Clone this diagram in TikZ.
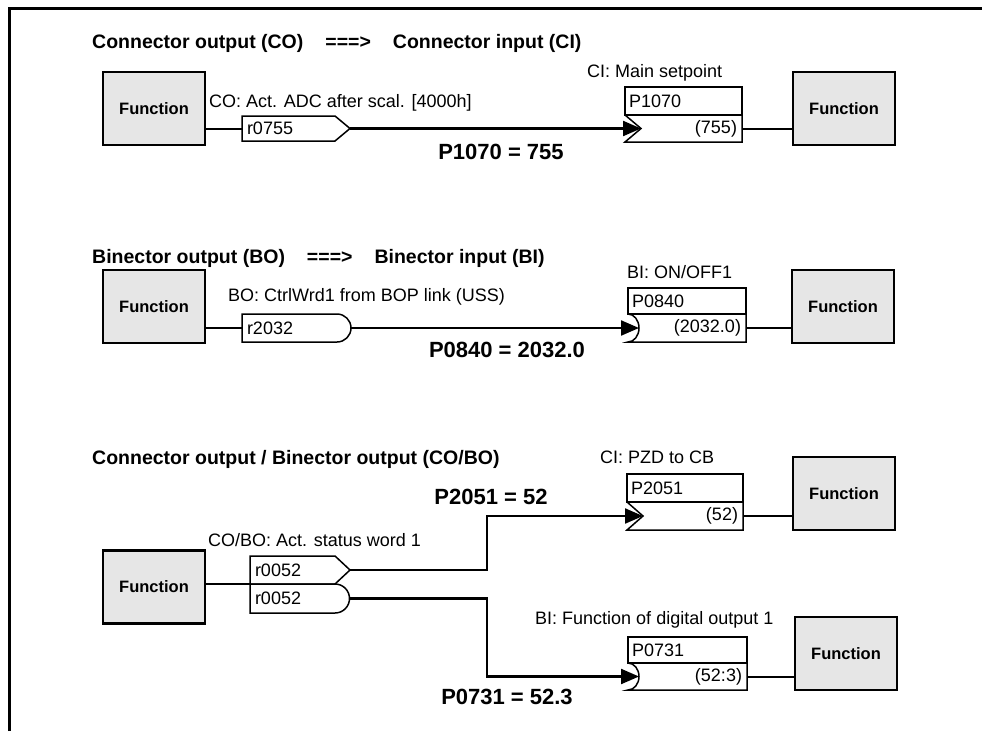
\documentclass[tikz,border=0pt]{standalone}
\usepackage{fontspec}
\setmainfont{Liberation Sans}
\usepackage{tikz}
\usetikzlibrary{arrows.meta,positioning,calc}
\definecolor{fngray}{RGB}{230,230,230}

% output ends and input notches, drawn round a named node
\newcommand\cotip[1]{%
  \draw[outline] (#1.south west) -- (#1.north west) -- (#1.north east) -- ($(#1.east)+(15,0)$) -- (#1.south east) -- cycle;
  \coordinate (#1-tip) at ($(#1.east)+(15,0)$);}
\newcommand\botip[2]{%
  \draw[outline] (#1.south east) -- (#1.south west) -- (#1.north west) -- (#1.north east) arc[start angle=-90, end angle=90, radius=#2];
  \coordinate (#1-tip) at ($(#1.east)+(#2,0)$);}
\newcommand\cinotch[1]{%
  \draw[outline] (#1.north west) -- ($(#1.west)+(16,0)$) -- (#1.south west) -- (#1.south east) -- (#1.north east);
  \coordinate (#1-tip) at ($(#1.west)+(16,0)$);}
\newcommand\binotch[2]{%
  \draw[outline] (#1.north west) arc[start angle=-90, end angle=90, x radius=11, y radius=#2] -- (#1.south east) -- (#1.north east);
  \coordinate (#1-tip) at ($(#1.west)+(11,0)$);}

\begin{document}
\begin{tikzpicture}[
  x=1pt, y=-1pt,
  font=\fontsize{18}{21}\selectfont,
  node distance=0pt,
  fn/.style={draw, line width=2.4pt, fill=fngray, minimum width=102pt, minimum height=73pt, inner sep=0pt, font=\bfseries\fontsize{16.5}{19}\selectfont},
  outbox/.style={inner xsep=5pt, inner ysep=0pt, outer sep=0pt, minimum height=#1, align=left},
  outbox/.default=26pt,
  inbox/.style={draw, line width=1.5pt, inner xsep=4pt, inner ysep=0pt, outer sep=0pt, minimum height=#1, align=left},
  inbox/.default=26pt,
  inval/.style={inner xsep=5pt, inner ysep=0pt, outer sep=0pt, minimum height=#1, align=right},
  inval/.default=27pt,
  outline/.style={line width=1.5pt, line join=miter},
  title/.style={anchor=west, inner sep=0pt, font=\bfseries\fontsize{19.5}{22}\selectfont},
  big/.style={inner sep=0pt, font=\bfseries\fontsize{22}{26}\selectfont},
  lbl/.style={anchor=west, inner sep=0pt},
  conn/.style={line width=2pt},
  arrow/.style={-{Triangle[length=18pt,width=15pt]}, line width=2.2pt}
]
\useasboundingbox (0,0) rectangle (982,731);
\draw[line width=3pt] (9,731) -- (9,8) -- (982,8);

% CO ===> CI
\node[title] (t1) at (92,43) {Connector output (CO)\hspace{22pt}===>\hspace{22pt}Connector input (CI)};
\node[fn] (fn1) at (154,108.5) {Function};
\node[outbox=25pt, text width=83pt] (r0755) at (288.5,128.5) {r0755};
\cotip{r0755}
\node[lbl] (l0755) at (209,103) {CO: Act. ADC after scal. [4000h]};
\node[inbox=28pt, text width=109pt] (p1070) at (683.5,101) {P1070};
\node[inval, text width=107pt, below=of p1070] (v1070) {(755)};
\cinotch{v1070}
\node[lbl] (l1070) at (587,73) {CI: Main setpoint};
\node[fn] (fn2) at (844,108.5) {Function};
\draw[conn] (fn1.east |- r0755.west) -- (r0755.west);
\draw[arrow] (r0755-tip) -- (v1070-tip);
\draw[conn] (v1070.east) -- (fn2.west |- v1070.east);
\node[big] (eq1070) at (501,152) {P1070 = 755};

% BO ===> BI
\node[title] (t2) at (92,258) {Binector output (BO)\hspace{22pt}===>\hspace{22pt}Binector input (BI)};
\node[fn] (fn3) at (154,306.5) {Function};
\node[outbox=28pt, text width=85pt] (r2032) at (289.5,328) {r2032};
\botip{r2032}{14}
\node[lbl] (l2032) at (228,297) {BO: CtrlWrd1 from BOP link (USS)};
\node[inbox, text width=110pt] (p0840) at (687,301) {P0840};
\node[inval=28pt, text width=108pt, below=of p0840] (v0840) {(2032.0)};
\binotch{v0840}{14}
\node[lbl] (l0840) at (627,272) {BI: ON/OFF1};
\node[fn] (fn4) at (843,306.5) {Function};
\draw[conn] (fn3.east |- r2032.west) -- (r2032.west);
\draw[arrow] (r2032-tip) -- (v0840-tip);
\draw[conn] (v0840.east) -- (fn4.west |- v0840.east);
\node[big] (eq0840) at (507,350) {P0840 = 2032.0};

% CO/BO
\node[title] (t3) at (92,459) {Connector output / Binector output (CO/BO)};
\node[fn] (fn5) at (154,587) {Function};
\node[outbox=28pt, text width=75pt] (r0052a) at (292.5,570) {r0052};
\cotip{r0052a}
\node[outbox=29pt, text width=75pt, below=of r0052a] (r0052b) {r0052};
\botip{r0052b}{14.5}
\node[lbl] (l0052) at (208,540) {CO/BO: Act. status word 1};
\node[inbox=28pt, text width=108pt] (p2051) at (685,488) {P2051};
\node[inval=28pt, text width=106pt, below=of p2051] (v2051) {(52)};
\cinotch{v2051}
\node[lbl] (l2051) at (600,457) {CI: PZD to CB};
\node[fn] (fn6) at (844,493.5) {Function};
\node[inbox, text width=111pt] (p0731) at (687.5,650) {P0731};
\node[inval, text width=109pt, below=of p0731] (v0731) {(52:3)};
\binotch{v0731}{13.5}
\node[lbl] (l0731) at (535,620) {BI: Function of digital output 1};
\node[fn] (fn7) at (846,653.5) {Function};
\coordinate (bend) at (487,0);
\draw[conn] (fn5.east |- r0052a.south west) -- (r0052a.south west);
\draw[arrow] (r0052a-tip) -| (bend |- v2051-tip) -- (v2051-tip);
\draw[arrow] (r0052b-tip) -| (bend |- v0731-tip) -- (v0731-tip);
\draw[conn] (v2051.east) -- (fn6.west |- v2051.east);
\draw[conn] (v0731.east) -- (fn7.west |- v0731.east);
\node[big] (eq2051) at (491,497) {P2051 = 52};
\node[big] (eq0731) at (507,697) {P0731 = 52.3};
\end{tikzpicture}
\end{document}
